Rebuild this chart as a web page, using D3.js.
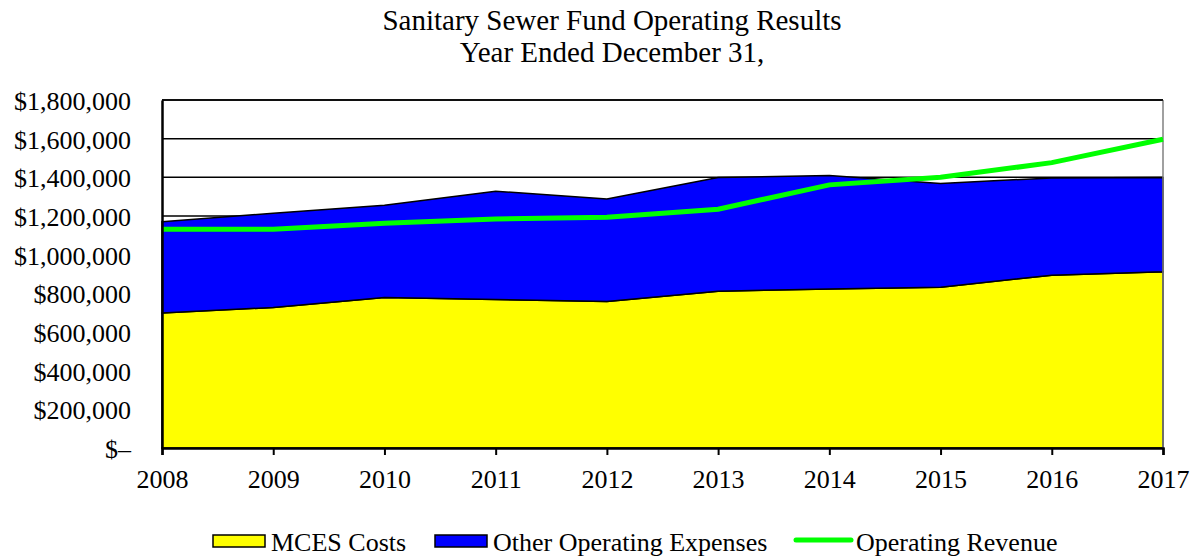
<!DOCTYPE html>
<html lang="en">
<head>
  <meta charset="UTF-8">
  <title>Sanitary Sewer Fund Operating Results</title>
  <script src="https://d3js.org/d3.v7.min.js"></script>
  <style>
    body {
      margin: 0;
      background: #fff;
    }
    svg { display: block; }
    svg text {
      font-family: "Liberation Serif", "Times New Roman", serif;
      fill: #000;
    }
  </style>
</head>
<body>
  <div id="chart"></div>

  <script>
    const years = [2008, 2009, 2010, 2011, 2012, 2013, 2014, 2015, 2016, 2017];
    const mcesCosts = [698000, 727000, 779000, 768000, 758000, 811000, 822000, 832000, 894000, 912000];
    const otherExpenses = [472000, 487000, 477000, 560000, 530000, 588000, 587000, 536000, 503000, 487000];
    const operatingRevenue = [1132000, 1132000, 1163000, 1185000, 1194000, 1235000, 1361000, 1400000, 1476000, 1597000];
    const yTicks = [0, 200000, 400000, 600000, 800000, 1000000, 1200000, 1400000, 1600000, 1800000];
    const titleLines = ["Sanitary Sewer Fund Operating Results", "Year Ended December 31,"];

    const width = 1196, height = 557;
    const margin = { top: 100, right: 33, bottom: 109, left: 162 };

    const svg = d3.select("#chart")
      .append("svg")
      .attr("width", width)
      .attr("height", height);

    const x = d3.scaleLinear()
      .domain([years[0], years[years.length - 1]])
      .range([margin.left, width - margin.right]);

    const y = d3.scaleLinear()
      .domain([0, 1800000])
      .range([height - margin.bottom, margin.top]);

    const rows = years.map((yr, i) => ({
      year: yr, mces: mcesCosts[i], other: otherExpenses[i], revenue: operatingRevenue[i]
    }));

    const stack = d3.stack().keys(["mces", "other"]);
    const series = stack(rows);
    const fills = { mces: "#ffff00", other: "#0000ff" };

    // title
    svg.append("g")
      .selectAll("text")
      .data(titleLines)
      .join("text")
      .attr("x", 612)
      .attr("y", (d, i) => 30 + i * 32)
      .attr("text-anchor", "middle")
      .style("font-size", "29px")
      .text(d => d);

    // gridlines behind the areas
    svg.append("g")
      .selectAll("line")
      .data(yTicks.slice(1))
      .join("line")
      .attr("x1", margin.left)
      .attr("x2", width - margin.right)
      .attr("y1", d => y(d))
      .attr("y2", d => y(d))
      .attr("stroke", "#000")
      .attr("stroke-width", 1.5);

    const area = d3.area()
      .x(d => x(d.data.year))
      .y0(d => y(d[0]))
      .y1(d => y(d[1]));

    svg.append("g")
      .selectAll("path")
      .data(series)
      .join("path")
      .attr("d", area)
      .attr("fill", d => fills[d.key])
      .attr("stroke", "#000")
      .attr("stroke-width", 1.5);

    // right border
    svg.append("line")
      .attr("x1", width - margin.right).attr("x2", width - margin.right)
      .attr("y1", margin.top).attr("y2", height - margin.bottom)
      .attr("stroke", "#808080")
      .attr("stroke-width", 1.5);

    const line = d3.line()
      .x(d => x(d.year))
      .y(d => y(d.revenue));

    svg.append("path")
      .datum(rows)
      .attr("d", line)
      .attr("fill", "none")
      .attr("stroke", "#00ff00")
      .attr("stroke-width", 5);

    // x axis
    const xAxis = svg.append("g")
      .attr("transform", `translate(0,${height - margin.bottom})`)
      .call(d3.axisBottom(x).tickValues(years).tickFormat(d3.format("d")).tickSize(7).tickPadding(15));
    xAxis.attr("font-family", null);
    xAxis.select(".domain").attr("stroke-width", 2.5);
    xAxis.selectAll(".tick line").attr("stroke-width", 2);
    xAxis.selectAll("text").style("font-size", "26px");

    // y axis
    const money = d => d === 0 ? "$\u2013" : "$" + d3.format(",")(d);
    const yAxis = svg.append("g")
      .attr("transform", `translate(${margin.left},0)`)
      .call(d3.axisLeft(y).tickValues(yTicks).tickFormat(money).tickSize(0).tickPadding(31));
    yAxis.attr("font-family", null);
    yAxis.select(".domain").attr("stroke-width", 2.5);
    yAxis.selectAll("text")
      .attr("dy", "0.37em")
      .style("font-size", "26px");

    // top border
    svg.append("line")
      .attr("x1", margin.left).attr("x2", width - margin.right)
      .attr("y1", margin.top).attr("y2", margin.top)
      .attr("stroke", "#000")
      .attr("stroke-width", 1.5);

    // legend
    const legendItems = [
      { label: "MCES Costs", type: "box", color: "#ffff00", x: 213 },
      { label: "Other Operating Expenses", type: "box", color: "#0000ff", x: 435 },
      { label: "Operating Revenue", type: "line", color: "#00ff00", x: 796 }
    ];
    const legend = svg.append("g");
    legendItems.forEach(d => {
      const g = legend.append("g").attr("transform", `translate(${d.x},535)`);
      if (d.type === "box") {
        g.append("rect")
          .attr("width", 52).attr("height", 12)
          .attr("fill", d.color)
          .attr("stroke", "#000")
          .attr("stroke-width", 1.5);
      } else {
        g.append("line")
          .attr("x1", 0).attr("x2", 55)
          .attr("y1", 5).attr("y2", 5)
          .attr("stroke", d.color)
          .attr("stroke-width", 5)
          .attr("stroke-linecap", "round");
      }
      g.append("text")
        .attr("x", d.type === "box" ? 58 : 60)
        .attr("y", 16)
        .style("font-size", "26px")
        .text(d.label);
    });
  </script>
</body>
</html>
